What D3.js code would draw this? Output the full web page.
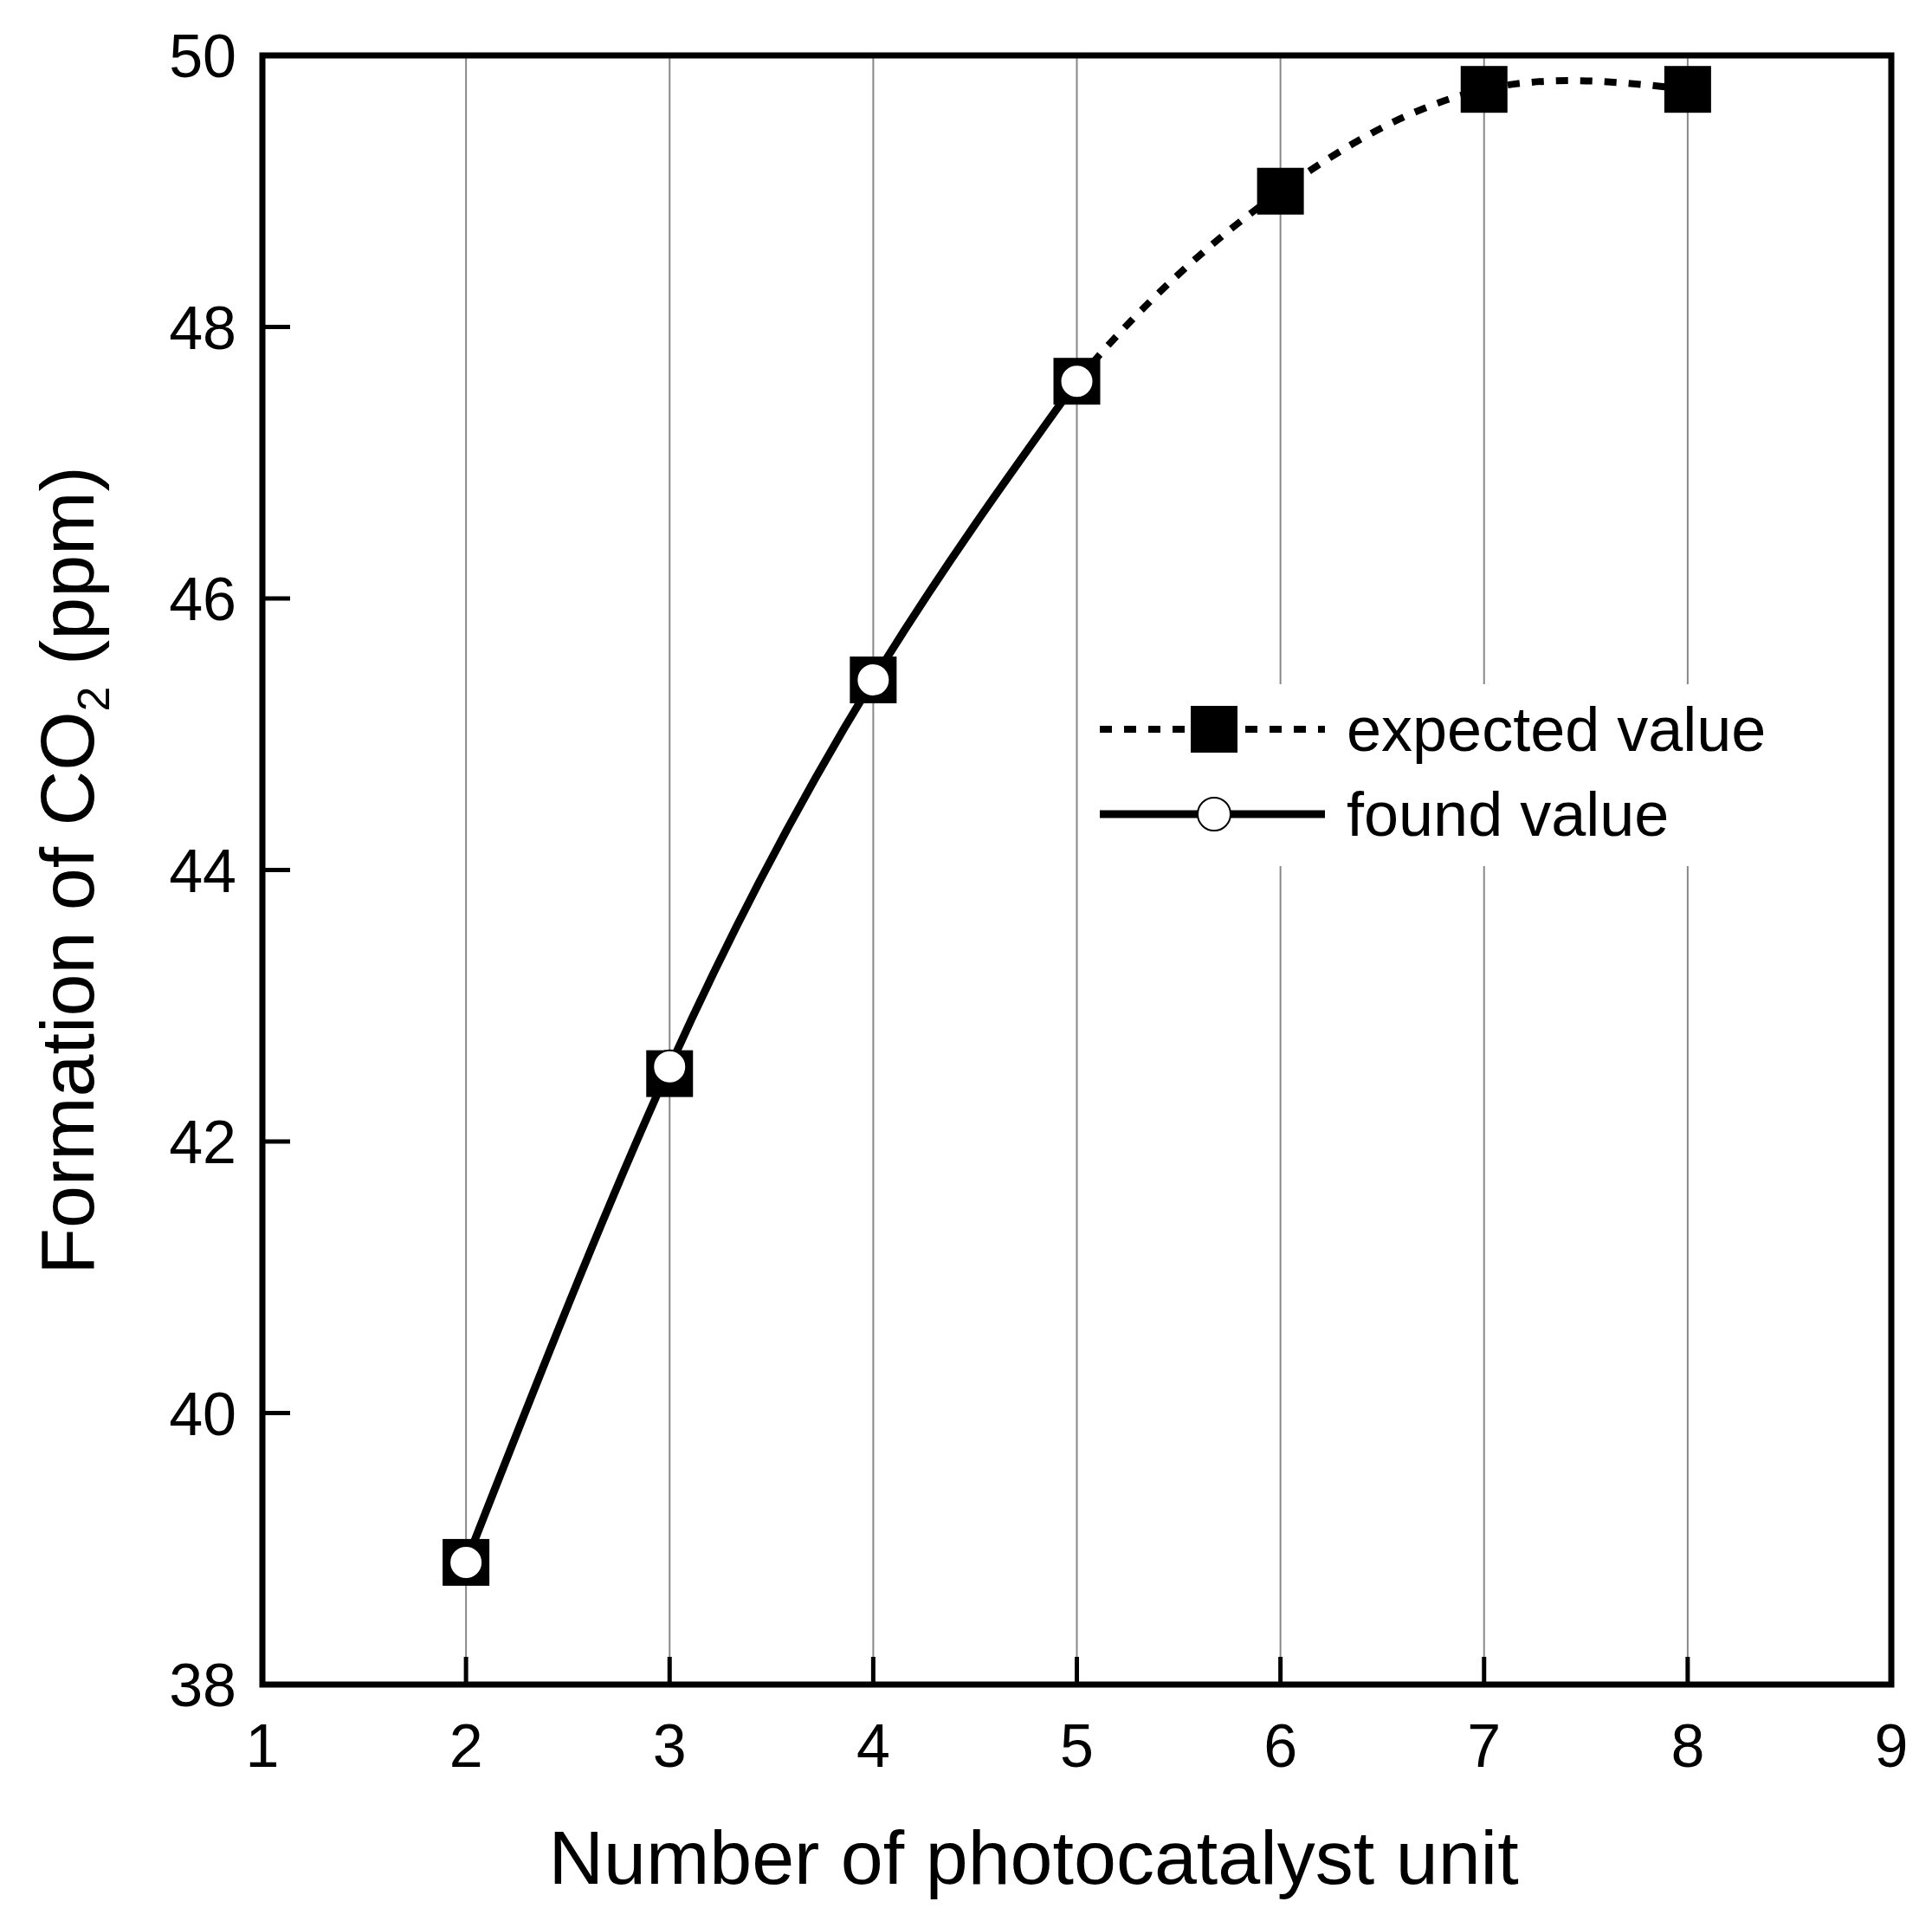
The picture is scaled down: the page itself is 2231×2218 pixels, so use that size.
<!DOCTYPE html>
<html><head><meta charset="utf-8">
<script src="https://cdn.jsdelivr.net/npm/d3@7"></script>
<style>body{margin:0;background:#fff}</style>
</head><body><div id="chart"></div>
<script>
var units = [2, 3, 4, 5, 6, 7, 8];
var expected = [38.9, 42.5, 45.4, 47.6, 49.0, 49.75, 49.75];
var foundUnits = [2, 3, 4, 5];
var found = [38.9, 42.55, 45.4, 47.6];
var xTicks = [1, 2, 3, 4, 5, 6, 7, 8, 9];
var yTicks = [38, 40, 42, 44, 46, 48, 50];

var W = 2231, H = 2218;
var m = {left: 303, right: 2184, top: 64, bottom: 1945};
var svg = d3.select('#chart').append('svg').attr('width', W).attr('height', H)
  .style('font-family', 'Arial, "Liberation Sans", sans-serif');

var x = d3.scaleLinear().domain([1, 9]).range([m.left, m.right]);
var y = d3.scaleLinear().domain([38, 50]).range([m.bottom, m.top]);

// grid lines
svg.selectAll('.grid').data(xTicks.slice(1, -1)).enter().append('line')
  .attr('x1', d => x(d)).attr('x2', d => x(d))
  .attr('y1', m.top).attr('y2', m.bottom)
  .attr('stroke', '#888').attr('stroke-width', 2);

// inward ticks
svg.selectAll('.xt').data(xTicks).enter().append('line')
  .attr('x1', d => x(d)).attr('x2', d => x(d))
  .attr('y1', m.bottom).attr('y2', m.bottom - 32)
  .attr('stroke', '#000').attr('stroke-width', 5);
svg.selectAll('.yt').data(yTicks).enter().append('line')
  .attr('x1', m.left).attr('x2', m.left + 32)
  .attr('y1', d => y(d)).attr('y2', d => y(d))
  .attr('stroke', '#000').attr('stroke-width', 5);

// legend background breaks the grid
svg.append('rect').attr('x', 1262).attr('y', 790).attr('width', 900).attr('height', 210).attr('fill', '#fff');

var pts = units.map((u, i) => [u, expected[i]]);
var fpts = foundUnits.map((u, i) => [u, found[i]]);
var line = d3.line().x(d => x(d[0])).y(d => y(d[1])).curve(d3.curveNatural);

svg.append('clipPath').attr('id', 'c5').append('rect')
  .attr('x', x(5)).attr('y', 0).attr('width', W).attr('height', H);
svg.append('path').datum(pts).attr('d', line).attr('clip-path', 'url(#c5)')
  .attr('fill', 'none').attr('stroke', '#000').attr('stroke-width', 8)
  .attr('stroke-dasharray', '14 14');
svg.append('path').datum(fpts).attr('d', line)
  .attr('fill', 'none').attr('stroke', '#000').attr('stroke-width', 9);

var s = 54;
svg.selectAll('.sq').data(pts).enter().append('rect')
  .attr('x', d => x(d[0]) - s / 2).attr('y', d => y(d[1]) - s / 2)
  .attr('width', s).attr('height', s).attr('fill', '#000');
svg.selectAll('.ci').data(fpts).enter().append('circle')
  .attr('cx', d => x(d[0])).attr('cy', d => y(d[1])).attr('r', 19)
  .attr('fill', '#fff').attr('stroke', '#000').attr('stroke-width', 2);

// frame
svg.append('rect').attr('x', m.left).attr('y', m.top)
  .attr('width', m.right - m.left).attr('height', m.bottom - m.top)
  .attr('fill', 'none').attr('stroke', '#000').attr('stroke-width', 7);

// tick labels
svg.selectAll('.xl').data(xTicks).enter().append('text')
  .attr('x', d => x(d)).attr('y', m.bottom + 95).attr('text-anchor', 'middle')
  .attr('font-size', 70).text(d => d);
svg.selectAll('.yl').data(yTicks).enter().append('text')
  .attr('x', m.left - 30).attr('y', d => y(d) + 25).attr('text-anchor', 'end')
  .attr('font-size', 70).text(d => d);

// axis titles
svg.append('text').attr('x', (m.left + m.right) / 2 - 50).attr('y', 2175)
  .attr('text-anchor', 'middle').attr('font-size', 88).text('Number of photocatalyst unit');
var yt = svg.append('text').attr('transform', 'translate(108,1005) rotate(-90)')
  .attr('text-anchor', 'middle').attr('font-size', 88);
yt.append('tspan').text('Formation of CO');
yt.append('tspan').attr('font-size', 52).attr('dy', 18).text('2');
yt.append('tspan').attr('dy', -18).text(' (ppm)');

// legend
var lx1 = 1270, lx2 = 1530, lmid = 1402;
var ly1 = 842, ly2 = 940;
svg.append('line').attr('x1', lx1).attr('x2', lx2).attr('y1', ly1).attr('y2', ly1)
  .attr('stroke', '#000').attr('stroke-width', 8).attr('stroke-dasharray', '14 14');
svg.append('rect').attr('x', lmid - s / 2).attr('y', ly1 - s / 2).attr('width', s).attr('height', s);
svg.append('line').attr('x1', lx1).attr('x2', lx2).attr('y1', ly2).attr('y2', ly2)
  .attr('stroke', '#000').attr('stroke-width', 9);
svg.append('circle').attr('cx', lmid).attr('cy', ly2).attr('r', 19)
  .attr('fill', '#fff').attr('stroke', '#000').attr('stroke-width', 2);
svg.append('text').attr('x', 1555).attr('y', ly1 + 25).attr('font-size', 72).text('expected value');
svg.append('text').attr('x', 1555).attr('y', ly2 + 25).attr('font-size', 72).text('found value');
</script></body></html>
